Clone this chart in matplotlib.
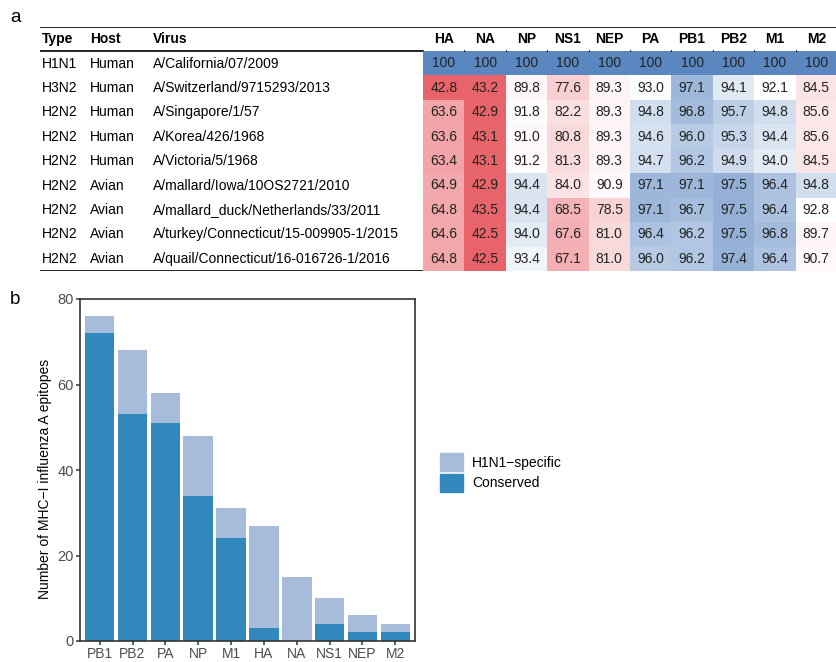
import matplotlib
matplotlib.use("Agg")
import matplotlib.pyplot as plt
import numpy as np
from matplotlib.colors import LinearSegmentedColormap, TwoSlopeNorm
from matplotlib.patches import Patch

plt.rcParams['font.family'] = ['Liberation Sans', 'DejaVu Sans']

# table data (panel a)
types = ["H1N1", "H3N2", "H2N2", "H2N2", "H2N2", "H2N2", "H2N2", "H2N2", "H2N2"]
hosts = ["Human", "Human", "Human", "Human", "Human", "Avian", "Avian", "Avian", "Avian"]
viruses = ["A/California/07/2009", "A/Switzerland/9715293/2013", "A/Singapore/1/57",
           "A/Korea/426/1968", "A/Victoria/5/1968", "A/mallard/Iowa/10OS2721/2010",
           "A/mallard_duck/Netherlands/33/2011", "A/turkey/Connecticut/15-009905-1/2015",
           "A/quail/Connecticut/16-016726-1/2016"]
proteins = ["HA", "NA", "NP", "NS1", "NEP", "PA", "PB1", "PB2", "M1", "M2"]
identity = np.array([
    [100, 100, 100, 100, 100, 100, 100, 100, 100, 100],
    [42.8, 43.2, 89.8, 77.6, 89.3, 93.0, 97.1, 94.1, 92.1, 84.5],
    [63.6, 42.9, 91.8, 82.2, 89.3, 94.8, 96.8, 95.7, 94.8, 85.6],
    [63.6, 43.1, 91.0, 80.8, 89.3, 94.6, 96.0, 95.3, 94.4, 85.6],
    [63.4, 43.1, 91.2, 81.3, 89.3, 94.7, 96.2, 94.9, 94.0, 84.5],
    [64.9, 42.9, 94.4, 84.0, 90.9, 97.1, 97.1, 97.5, 96.4, 94.8],
    [64.8, 43.5, 94.4, 68.5, 78.5, 97.1, 96.7, 97.5, 96.4, 92.8],
    [64.6, 42.5, 94.0, 67.6, 81.0, 96.4, 96.2, 97.5, 96.8, 89.7],
    [64.8, 42.5, 93.4, 67.1, 81.0, 96.0, 96.2, 97.4, 96.4, 90.7],
])

# epitope counts (panel b)
bar_proteins = ["PB1", "PB2", "PA", "NP", "M1", "HA", "NA", "NS1", "NEP", "M2"]
total = [76, 68, 58, 48, 31, 27, 15, 10, 6, 4]
conserved = [72, 53, 51, 34, 24, 3, 0, 4, 2, 2]

W, H = 837, 662
fig = plt.figure(figsize=(W / 100, H / 100), dpi=100)

def rect(x0, y0, x1, y1):
    # pixel box (top-left origin) -> figure fraction
    return [x0 / W, 1 - y1 / H, (x1 - x0) / W, (y1 - y0) / H]

# ---- panel a: table frame + text columns
tab = fig.add_axes(rect(40, 27, 837, 271))
tab.set_xlim(0, 797)
tab.set_ylim(10, 0)
tab.axis('off')
tab.axhline(0, color='black', lw=1.2)
tab.axhline(10, color='black', lw=1.2)
tab.plot([0, 383], [1, 1], color='black', lw=1.2)

fs = 10
for x, head in zip([2, 50, 113], ["Type", "Host", "Virus"]):
    tab.text(x, 0.5, head, fontsize=fs, fontweight='bold', va='center')
for i in range(len(types)):
    y = i + 1.5
    tab.text(2, y, types[i], fontsize=fs, va='center')
    tab.text(50, y, hosts[i], fontsize=fs, va='center')
    tab.text(113, y, viruses[i], fontsize=fs, va='center')

# heatmap
cmap = LinearSegmentedColormap.from_list("idn", ["#E8636A", "#FFFFFF", "#5B87C1"])
norm = TwoSlopeNorm(vmin=42.5, vcenter=92.8, vmax=100)
hm = fig.add_axes(rect(423, 51, 837, 271))
hm.pcolormesh(identity, cmap=cmap, norm=norm)
hm.set_xlim(0, len(proteins))
hm.set_ylim(len(types), 0)
hm.axis('off')
for i in range(identity.shape[0]):
    for j in range(identity.shape[1]):
        v = identity[i, j]
        lab = "100" if v == 100 else f"{v:.1f}"
        hm.text(j + 0.5, i + 0.5, lab, ha='center', va='center', fontsize=fs, color='#222222')
for j, p in enumerate(proteins):
    hm.text(j + 0.5, -0.5, p, ha='center', va='center', fontsize=fs,
            fontweight='bold', clip_on=False)
# small marks at the column boundaries under the header
for j in range(1, len(proteins)):
    hm.plot([j, j], [-0.06, 0.0], color='#333333', lw=0.8, clip_on=False)

fig.text(10 / W, 1 - 18 / H, "a", fontsize=13.5, va='center', ha='left')
fig.text(10 / W, 1 - 300 / H, "b", fontsize=13.5, va='center', ha='left')

# ---- panel b: stacked bars
light = "#A7BBDA"
dark = "#3288BD"
ax = fig.add_axes(rect(80, 299, 415, 641))
xs = np.arange(len(bar_proteins))
specific = [t - c for t, c in zip(total, conserved)]
ax.bar(xs, conserved, width=0.9, color=dark, label="Conserved")
ax.bar(xs, specific, width=0.9, bottom=conserved, color=light, label="H1N1\u2212specific")
ax.set_xlim(-0.6, 9.6)
ax.set_ylim(0, 80)
ax.set_yticks([0, 20, 40, 60, 80])
ax.set_xticks(xs)
ax.set_xticklabels(bar_proteins)
for s in ax.spines.values():
    s.set_color('#333333')
    s.set_linewidth(1.2)
ax.tick_params(colors='#333333', length=3, width=1.1, labelsize=10.5,
               labelcolor='#4D4D4D', pad=1.5)
ax.tick_params(axis='x', labelsize=10, pad=1)
ax.set_ylabel("Number of MHC\u2212I influenza A epitopes", fontsize=10)
ax.yaxis.set_label_coords(-0.084, 0.475)

handles = [Patch(color=light), Patch(color=dark)]
fig.legend(handles, ["H1N1\u2212specific", "Conserved"], loc='upper left',
           bbox_to_anchor=(434.5 / W, 1 - 447.5 / H), frameon=False, fontsize=10,
           handlelength=1.66, handleheight=1.66, labelspacing=0.15, handletextpad=0.65,
           borderaxespad=0)

fig.savefig("out.png", dpi=100)
